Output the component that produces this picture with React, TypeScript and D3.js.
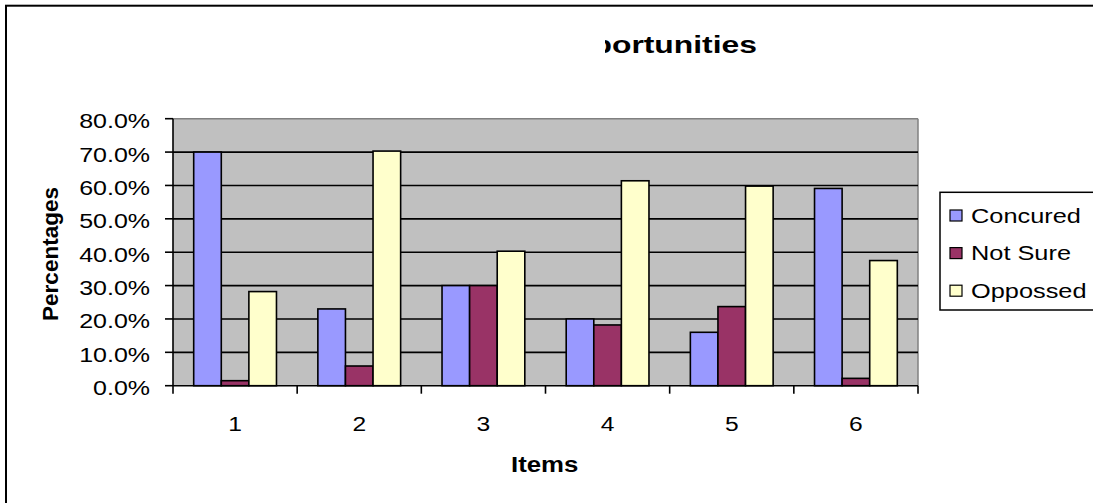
import React from "react";
import * as d3 from "d3";

// Survey results per item
const categories = ["1", "2", "3", "4", "5", "6"];
const seriesNames = ["Concured", "Not Sure", "Oppossed"];
const concured = [0.7, 0.23, 0.3, 0.2, 0.16, 0.591];
const notSure = [0.015, 0.059, 0.3, 0.182, 0.237, 0.022];
const oppossed = [0.282, 0.703, 0.403, 0.614, 0.598, 0.375];
const yTicks = [0, 0.1, 0.2, 0.3, 0.4, 0.5, 0.6, 0.7, 0.8];
const seriesColors = ["#9999FF", "#993366", "#FFFFCC"];

const W = 1093;
const H = 503;
const plot = { left: 173, right: 918, top: 118.7, bottom: 385.7 };
const FONT = "Liberation Sans, Arial, sans-serif";

type TProps = {
  x: number;
  y: number;
  size: number;
  sx?: number;
  anchor?: "start" | "middle" | "end";
  bold?: boolean;
  rotate?: number;
  children: React.ReactNode;
};

// Text that is widened horizontally like the rest of the chart
function SText({ x, y, size, sx = 1.25, anchor = "start", bold, rotate = 0, children }: TProps) {
  return (
    <text
      transform={`translate(${x},${y}) scale(${sx},1) rotate(${rotate})`}
      textAnchor={anchor}
      fontFamily={FONT}
      fontSize={size}
      fontWeight={bold ? "bold" : "normal"}
      fill="#000"
    >
      {children}
    </text>
  );
}

export default function App() {
  const values = [concured, notSure, oppossed];
  const x0 = d3.scaleBand<string>().domain(categories).range([plot.left, plot.right]).padding(0);
  const x1 = d3
    .scaleBand<string>()
    .domain(seriesNames)
    .range([0, x0.bandwidth()])
    .paddingInner(0)
    .paddingOuter(0.75);
  const y = d3.scaleLinear().domain([0, 0.8]).range([plot.bottom, plot.top]);
  const fmt = d3.format(".1%");

  const legendRows = seriesNames.map((name, i) => ({ name, color: seriesColors[i], cy: 215.5 + i * 37.6 }));

  return (
    <svg
      width={W}
      height={H}
      style={{ position: "absolute", left: 0, top: 0, background: "#fff" }}
    >
      <defs>
        <clipPath id="titleClip">
          <rect x={605} y={0} width={W} height={100} />
        </clipPath>
      </defs>
      <rect x={0} y={0} width={W} height={H} fill="#fff" />
      {/* chart frame */}
      <rect x={6} y={5.7} width={W + 20} height={H + 20} fill="none" stroke="#000" strokeWidth={2} />

      {/* title, partly hidden on the left */}
      <g clipPath="url(#titleClip)">
        <SText x={757} y={52.5} size={24.5} sx={1.3} anchor="end" bold>
          Opportunities
        </SText>
      </g>

      {/* plot area */}
      <rect
        x={plot.left}
        y={plot.top}
        width={plot.right - plot.left}
        height={plot.bottom - plot.top}
        fill="#C0C0C0"
      />
      <line x1={plot.left} x2={plot.right} y1={plot.top} y2={plot.top} stroke="#808080" strokeWidth={1.5} />
      <line x1={plot.right} x2={plot.right} y1={plot.top} y2={plot.bottom} stroke="#808080" strokeWidth={1.5} />
      {yTicks.slice(1, -1).map((t) => (
        <line key={t} x1={plot.left} x2={plot.right} y1={y(t)} y2={y(t)} stroke="#000" strokeWidth={1.6} />
      ))}

      {/* bars */}
      {categories.map((c, ci) => (
        <g key={c} transform={`translate(${x0(c)},0)`}>
          {seriesNames.map((s, si) => {
            const v = values[si][ci];
            return (
              <rect
                key={s}
                x={x1(s)}
                y={y(v)}
                width={x1.bandwidth()}
                height={y(0) - y(v)}
                fill={seriesColors[si]}
                stroke="#000"
                strokeWidth={1.6}
              />
            );
          })}
        </g>
      ))}

      {/* y axis */}
      <line x1={plot.left} x2={plot.left} y1={plot.top} y2={plot.bottom} stroke="#000" strokeWidth={1.6} />
      {yTicks.map((t) => (
        <g key={t}>
          <line x1={plot.left - 8} x2={plot.left} y1={y(t)} y2={y(t)} stroke="#000" strokeWidth={1.6} />
          <SText x={150} y={y(t) + 9.5} size={20} sx={1.25} anchor="end">
            {fmt(t)}
          </SText>
        </g>
      ))}

      {/* x axis */}
      <line x1={plot.left} x2={plot.right} y1={plot.bottom} y2={plot.bottom} stroke="#000" strokeWidth={1.6} />
      {[...categories.map((c) => x0(c)!), plot.right].map((px, i) => (
        <line key={i} x1={px} x2={px} y1={plot.bottom} y2={plot.bottom + 8} stroke="#000" strokeWidth={1.6} />
      ))}
      {categories.map((c) => (
        <SText key={c} x={x0(c)! + x0.bandwidth() / 2} y={431} size={20.5} sx={1.2} anchor="middle">
          {c}
        </SText>
      ))}

      {/* axis titles */}
      <SText x={544.7} y={472} size={21.5} sx={1.2} anchor="middle" bold>
        Items
      </SText>
      <SText x={57.5} y={254} size={22.5} sx={1.0} anchor="middle" bold rotate={-90}>
        Percentages
      </SText>

      {/* legend */}
      <rect x={940} y={192.3} width={200} height={117.7} fill="#fff" stroke="#000" strokeWidth={1.5} />
      {legendRows.map((r) => (
        <g key={r.name}>
          <rect x={950} y={r.cy - 5.5} width={12} height={11} fill={r.color} stroke="#000" strokeWidth={1.2} />
          <SText x={971} y={r.cy + 7} size={19.8} sx={1.28}>
            {r.name}
          </SText>
        </g>
      ))}
    </svg>
  );
}
